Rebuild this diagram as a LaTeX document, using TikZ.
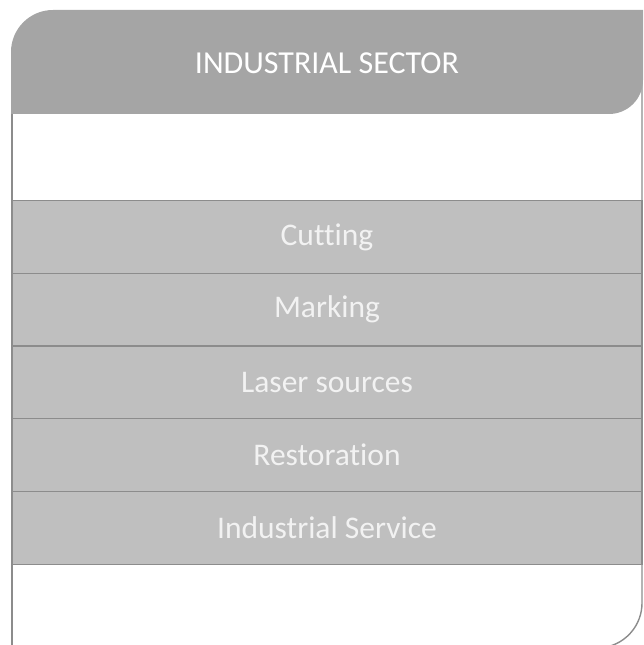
\documentclass[tikz,border=0pt]{standalone}
\usepackage{fontspec}
\setmainfont[Ligatures=NoCommon]{Carlito}
\definecolor{hdrfill}{HTML}{A5A5A5}
\definecolor{bandfill}{HTML}{BFBFBF}
\definecolor{linegray}{HTML}{8C8C8C}
\definecolor{bandtext}{HTML}{F2F2F2}
\begin{document}
\begin{tikzpicture}[x=1pt,y=1pt,
  bandbox/.style={fill=bandfill,draw=linegray,line width=1.3pt,minimum width=630pt,minimum height=72.7pt,inner sep=0pt,outer sep=0pt,anchor=north west,
    text=bandtext,font=\fontsize{31.5}{36}\selectfont},
  frameline/.style={draw=linegray,line width=1.4pt}]
\useasboundingbox (0,0) rectangle (644,645);
\clip (0,0) rectangle (644,645);
% frame
\coordinate (fl1) at (12,531);
\coordinate (fl2) at (12,-5);
\draw[frameline] (fl1) -- (fl2);
\coordinate (fr1) at (642,565);
\draw[frameline] (fr1) -- (642,42) arc[start angle=0,end angle=-80,radius=45];
% header
\path[fill=hdrfill] (11,531) -- (11,593) arc[start angle=180,end angle=90,radius=42] -- (643,635) -- (643,565) arc[start angle=0,end angle=-90,radius=34] -- cycle;
\node[text=white,font=\fontsize{32}{36}\selectfont] (hdr) at (327,581.5) {INDUSTRIAL SECTOR};
% bands
\node[bandbox] (b1) at (12,444.3) {Cutting};
\node[bandbox] (b2) at (b1.south west) {Marking};
\node[bandbox] (b3) at (b2.south west) {Laser sources};
\node[bandbox] (b4) at (b3.south west) {Restoration};
\node[bandbox] (b5) at (b4.south west) {Industrial Service};
\end{tikzpicture}
\end{document}
